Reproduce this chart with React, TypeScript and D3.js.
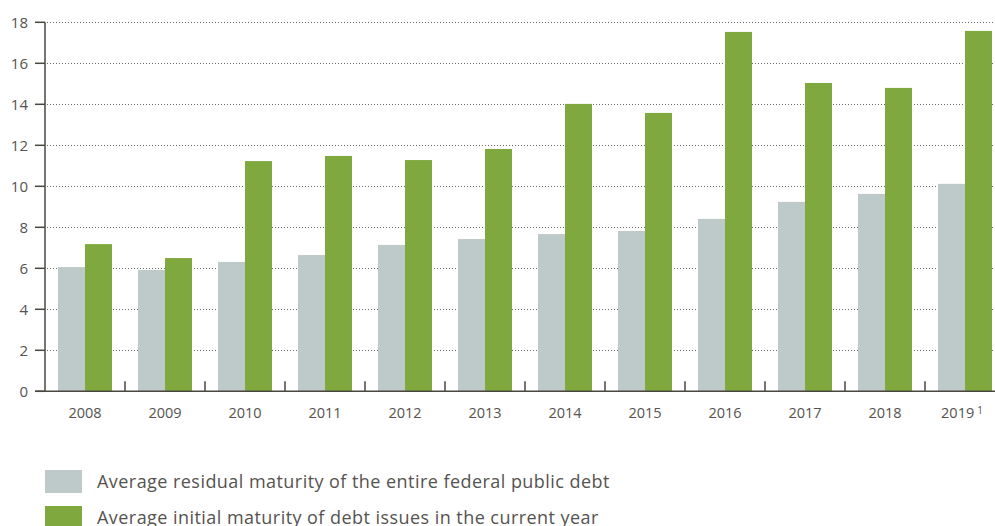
import React from "react";
import * as d3 from "d3";

const years = ["2008", "2009", "2010", "2011", "2012", "2013", "2014", "2015", "2016", "2017", "2018", "2019"];
const residual = [6.06, 5.92, 6.31, 6.65, 7.14, 7.43, 7.67, 7.82, 8.41, 9.24, 9.63, 10.12];
const initial = [7.18, 6.5, 11.23, 11.48, 11.28, 11.82, 14.02, 13.58, 17.53, 15.04, 14.8, 17.58];
const yTicks = [0, 2, 4, 6, 8, 10, 12, 14, 16, 18];
const legendLabels = [
  "Average residual maturity of the entire federal public debt",
  "Average initial maturity of debt issues in the current year",
];

const W = 995;
const H = 526;
const GRAY = "#bec9c9";
const GREEN = "#7fa83f";
const AXIS = "#4a4740";
const TEXT = "#555350";
const FONT = "'Open Sans', 'Noto Sans', sans-serif";

export default function App() {
  const x0 = 45;
  const step = 80;
  const x = d3
    .scaleBand<string>()
    .domain(years)
    .range([x0, x0 + step * years.length])
    .paddingInner(0)
    .paddingOuter(0);
  const inner = d3
    .scaleBand<string>()
    .domain(["r", "i"])
    .range([13, 67]);
  const y = d3.scaleLinear().domain([0, 18]).range([391.3, 22.3]);

  return (
    <svg
      width={W}
      height={H}
      style={{ position: "absolute", left: 0, top: 0, background: "#fff" }}
      fontFamily={FONT}
    >
      {/* gridlines */}
      {yTicks.filter((t) => t > 0).map((t) => (
        <line
          key={"g" + t}
          x1={x0 + 2}
          x2={W}
          y1={Math.round(y(t)) + 0.5}
          y2={Math.round(y(t)) + 0.5}
          stroke="#6a6864"
          strokeWidth={1}
          strokeDasharray="1,2"
        />
      ))}
      {/* bars */}
      {years.map((yr, i) => (
        <g key={yr} transform={`translate(${x(yr)},0)`}>
          <rect
            x={inner("r")}
            width={inner.bandwidth()}
            y={y(residual[i])}
            height={y(0) - y(residual[i])}
            fill={GRAY}
          />
          <rect
            x={inner("i")}
            width={inner.bandwidth()}
            y={y(initial[i])}
            height={y(0) - y(initial[i])}
            fill={GREEN}
          />
        </g>
      ))}
      {/* y axis */}
      <line x1={x0} x2={x0} y1={y(18)} y2={y(0)} stroke={AXIS} strokeWidth={1.5} />
      {yTicks.map((t) => (
        <g key={"y" + t}>
          <line x1={35} x2={x0} y1={y(t)} y2={y(t)} stroke={AXIS} strokeWidth={1.5} />
          <text
            x={28}
            y={y(t)}
            dy="0.35em"
            textAnchor="end"
            fontSize={15}
            fill={TEXT}
          >
            {t}
          </text>
        </g>
      ))}
      {/* x axis */}
      <line x1={35} x2={W} y1={y(0)} y2={y(0)} stroke={AXIS} strokeWidth={1.5} />
      {years.slice(1).map((yr) => (
        <line
          key={"t" + yr}
          x1={x(yr)}
          x2={x(yr)}
          y1={y(0)}
          y2={y(0) - 10}
          stroke={AXIS}
          strokeWidth={1.5}
        />
      ))}
      {years.map((yr, i) => (
        <text
          key={"l" + yr}
          x={(x(yr) as number) + step / 2 + (i === years.length - 1 ? -3 : 0)}
          y={418}
          textAnchor="middle"
          fontSize={14.5}
          fill={TEXT}
        >
          {yr}
          {i === years.length - 1 ? (
            <tspan fontSize={10} dx={3} dy={-4}>
              1
            </tspan>
          ) : null}
        </text>
      ))}
      {/* legend */}
      {legendLabels.map((lab, i) => (
        <g key={lab} transform={`translate(45,${470 + i * 36})`}>
          <rect width={37} height={23} fill={i === 0 ? GRAY : GREEN} />
          <text x={52} y={17.5} fontSize={18} letterSpacing={0.45} fill={TEXT}>
            {lab}
          </text>
        </g>
      ))}
    </svg>
  );
}
